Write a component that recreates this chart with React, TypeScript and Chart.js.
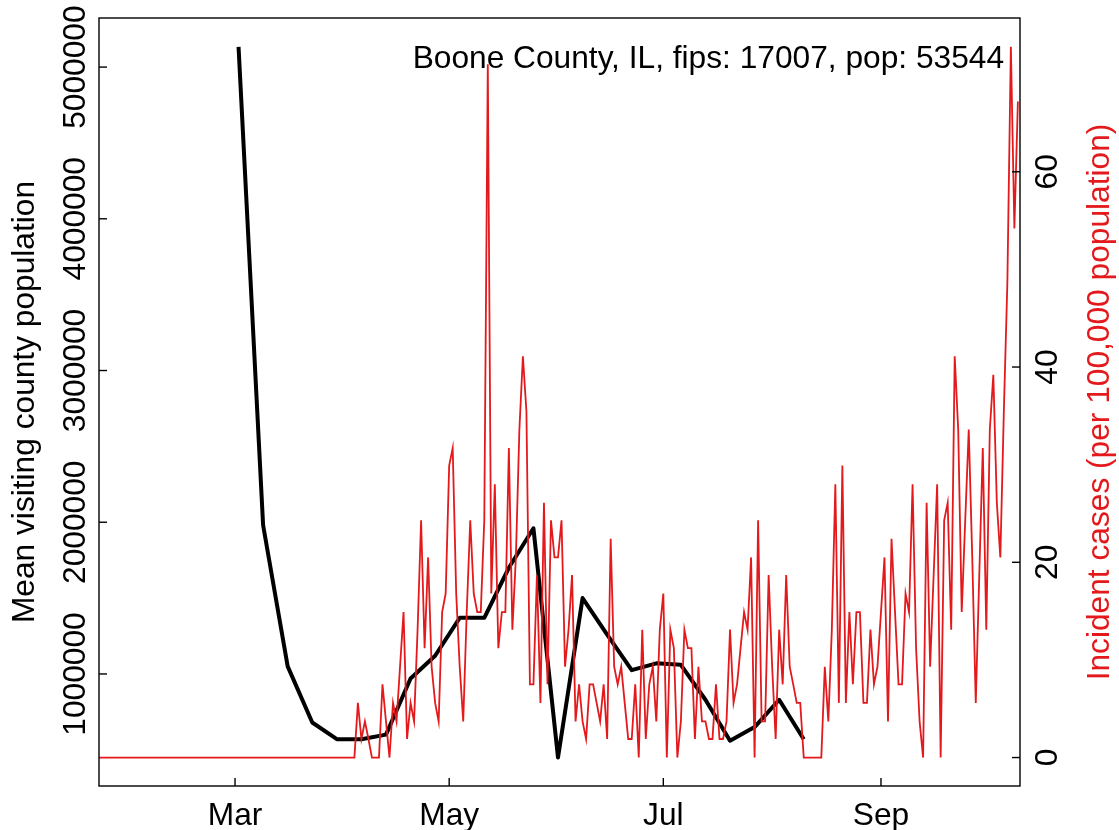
import { useEffect, useRef } from "react";
import { Chart, registerables } from "chart.js";

Chart.register(...registerables);

// ---- data ----
const caseStartDate = "2020-01-22"; // daily series start
// Incident cases per 100,000 population, one value per day from Jan 22
const incidence: number[] = [
  // Jan 22 – Apr 4 (no cases)
  0, 0, 0, 0, 0, 0, 0, 0, 0, 0,
  0, 0, 0, 0, 0, 0, 0, 0, 0, 0,
  0, 0, 0, 0, 0, 0, 0, 0, 0, 0,
  0, 0, 0, 0, 0, 0, 0, 0, 0, 0,
  0, 0, 0, 0, 0, 0, 0, 0, 0, 0,
  0, 0, 0, 0, 0, 0, 0, 0, 0, 0,
  0, 0, 0, 0, 0, 0, 0, 0, 0, 0,
  0, 0, 0, 0,
  // Apr 5 –
  5.6, 1.9, 3.7, 1.9, 0, 0, 0, 7.5, 3.7, 0,
  5.6, 3.7, 9.3, 14.9, 1.9, 5.6, 3.7, 13.1, 24.3, 11.2,
  20.5, 9.3, 5.6, 3.7, 14.9, 16.8, 29.9, 31.7, 16.8, 9.3,
  3.7, 14.9, 24.3, 16.8, 14.9, 14.9, 24.3, 71.0, 16.8, 28.0,
  11.2, 14.9, 14.9, 31.7, 13.1, 20.5, 33.6, 41.1, 35.5, 7.5,
  7.5, 18.7, 5.6, 26.1, 7.5, 24.3, 20.5, 20.5, 24.3, 9.3,
  13.1, 18.7, 3.7, 7.5, 3.7, 1.9, 7.5, 7.5, 5.6, 3.7,
  7.5, 1.9, 22.4, 9.3, 7.5, 9.3, 5.6, 1.9, 1.9, 7.5,
  0, 13.1, 1.9, 7.5, 9.3, 3.7, 13.1, 16.8, 0, 13.1,
  11.2, 0, 3.7, 13.1, 11.2, 11.2, 1.9, 9.3, 3.7, 3.7,
  1.9, 1.9, 7.5, 1.9, 1.9, 3.7, 13.1, 5.6, 7.5, 11.2,
  14.9, 13.1, 20.5, 0, 24.3, 3.7, 3.7, 18.7, 9.3, 1.9,
  13.1, 7.5, 18.7, 9.3, 7.5, 5.6, 5.6, 0, 0, 0,
  0, 0, 0, 9.3, 3.7, 13.1, 28.0, 5.6, 29.9, 5.6,
  14.9, 7.5, 14.9, 14.9, 5.6, 5.6, 13.1, 7.5, 9.3, 14.9,
  20.5, 3.7, 22.4, 14.9, 7.5, 7.5, 16.8, 14.9, 28.0, 11.2,
  3.7, 0, 26.1, 9.3, 18.7, 28.0, 0, 24.3, 26.1, 13.1,
  41.1, 33.6, 14.9, 24.3, 33.6, 20.5, 5.6, 18.7, 31.7, 13.1,
  33.6, 39.2, 26.1, 20.5, 35.5, 48.6, 72.8, 54.2, 67.2,
];

const visitStartDate = "2020-03-02"; // weekly series start
const visitStepDays = 7;
// Mean visiting county population, weekly
const visitingPop: number[] = [
  5133000, 1980000, 1050000, 680000, 570000, 570000, 600000, 970000,
  1120000, 1370000, 1370000, 1700000, 1960000, 449000, 1500000, 1260000,
  1025000, 1070000, 1060000, 830000, 560000, 650000, 830000, 570000,
];

const monthTickDates = ["2020-03-01", "2020-05-01", "2020-07-01", "2020-09-01"];
const monthTickLabels = ["Mar", "May", "Jul", "Sep"];
const leftTickValues = [1000000, 2000000, 3000000, 4000000, 5000000];
const rightTickValues = [0, 20, 40, 60];

const titleText = "Boone County, IL, fips: 17007, pop: 53544";
const leftAxisTitle = "Mean visiting county population";
const rightAxisTitle = "Incident cases (per 100,000 population)";

const RED = "#E3191C";
const FONT = '31.7px "Liberation Sans", Arial, Helvetica, sans-serif';

function dayIndex(iso: string): number {
  return (Date.parse(iso + "T00:00:00Z") - Date.UTC(2020, 0, 1)) / 86400000;
}

const rAxesPlugin = {
  id: "rStyleAxes",
  afterDraw(chart: any) {
    const { ctx, chartArea: a, scales } = chart;
    const x = scales.x;
    const yL = scales.yL;
    const yR = scales.yR;
    const tick = 8;
    ctx.save();
    ctx.strokeStyle = "#000";
    ctx.lineWidth = 1.4;
    ctx.strokeRect(a.left, a.top, a.right - a.left, a.bottom - a.top);

    ctx.font = FONT;
    ctx.fillStyle = "#000";

    // bottom axis
    monthTickDates.forEach((d, i) => {
      const px = x.getPixelForValue(dayIndex(d));
      ctx.beginPath();
      ctx.moveTo(px, a.bottom);
      ctx.lineTo(px, a.bottom - tick);
      ctx.stroke();
      ctx.textAlign = "center";
      ctx.textBaseline = "alphabetic";
      ctx.fillText(monthTickLabels[i], px, 825);
    });

    // left axis
    leftTickValues.forEach((v) => {
      const py = yL.getPixelForValue(v);
      ctx.beginPath();
      ctx.moveTo(a.left, py);
      ctx.lineTo(a.left + tick, py);
      ctx.stroke();
      ctx.save();
      ctx.translate(85, py);
      ctx.rotate(-Math.PI / 2);
      ctx.textAlign = "center";
      ctx.textBaseline = "alphabetic";
      ctx.fillText(String(v), 0, 0);
      ctx.restore();
    });

    // right axis
    rightTickValues.forEach((v) => {
      const py = yR.getPixelForValue(v);
      ctx.beginPath();
      ctx.moveTo(a.right, py);
      ctx.lineTo(a.right - tick, py);
      ctx.stroke();
      ctx.save();
      ctx.translate(1057, py);
      ctx.rotate(-Math.PI / 2);
      ctx.textAlign = "center";
      ctx.textBaseline = "alphabetic";
      ctx.fillText(String(v), 0, 0);
      ctx.restore();
    });

    const midY = (a.top + a.bottom) / 2;
    // left title
    ctx.save();
    ctx.translate(34, midY);
    ctx.rotate(-Math.PI / 2);
    ctx.textAlign = "center";
    ctx.textBaseline = "alphabetic";
    ctx.fillText(leftAxisTitle, 0, 0);
    ctx.restore();

    // right title
    ctx.save();
    ctx.fillStyle = RED;
    ctx.translate(1109, midY);
    ctx.rotate(-Math.PI / 2);
    ctx.textAlign = "center";
    ctx.textBaseline = "alphabetic";
    ctx.fillText(rightAxisTitle, 0, 0);
    ctx.restore();

    // annotation
    ctx.textAlign = "right";
    ctx.textBaseline = "alphabetic";
    ctx.fillText(titleText, 1004, 68);
    ctx.restore();
  },
};

export default function App() {
  const canvasRef = useRef<HTMLCanvasElement | null>(null);

  useEffect(() => {
    const canvas = canvasRef.current;
    if (!canvas) return;
    const caseStart = dayIndex(caseStartDate);
    const visitStart = dayIndex(visitStartDate);
    const redPoints = incidence.map((v, i) => ({ x: caseStart + i, y: v }));
    const blackPoints = visitingPop.map((v, i) => ({ x: visitStart + i * visitStepDays, y: v }));

    const hidden = {
      ticks: { display: false },
      grid: { display: false, drawTicks: false },
      border: { display: false },
      title: { display: false },
    };

    const chart = new Chart(canvas, {
      type: "line",
      data: {
        datasets: [
          {
            label: "Incident cases",
            data: redPoints,
            yAxisID: "yR",
            borderColor: RED,
            borderWidth: 1.8,
            pointRadius: 0,
            tension: 0,
            fill: false,
          },
          {
            label: "Mean visiting county population",
            data: blackPoints,
            yAxisID: "yL",
            borderColor: "#000",
            borderWidth: 4,
            pointRadius: 0,
            tension: 0,
            fill: false,
            borderJoinStyle: "round",
          },
        ],
      },
      options: {
        animation: false,
        responsive: false,
        parsing: false,
        normalized: true,
        layout: { padding: { top: 18, left: 0, right: 0, bottom: 0 } },
        plugins: {
          legend: { display: false },
          tooltip: { enabled: false },
        },
        scales: {
          x: {
            type: "linear",
            min: 21.25,
            max: 283.6,
            ...hidden,
            afterFit: (s: any) => {
              s.height = 44;
            },
          },
          yL: {
            type: "linear",
            position: "left",
            min: 261500,
            max: 5323500,
            ...hidden,
            afterFit: (s: any) => {
              s.width = 99;
            },
          },
          yR: {
            type: "linear",
            position: "right",
            min: -2.914,
            max: 75.75,
            ...hidden,
            afterFit: (s: any) => {
              s.width = 99;
            },
          },
        },
      },
      plugins: [rAxesPlugin],
    } as any);

    return () => chart.destroy();
  }, []);

  return (
    <div style={{ position: "absolute", left: 0, top: 0, width: 1119, height: 830, background: "#fff" }}>
      <canvas ref={canvasRef} width={1119} height={830} style={{ display: "block" }} />
    </div>
  );
}
